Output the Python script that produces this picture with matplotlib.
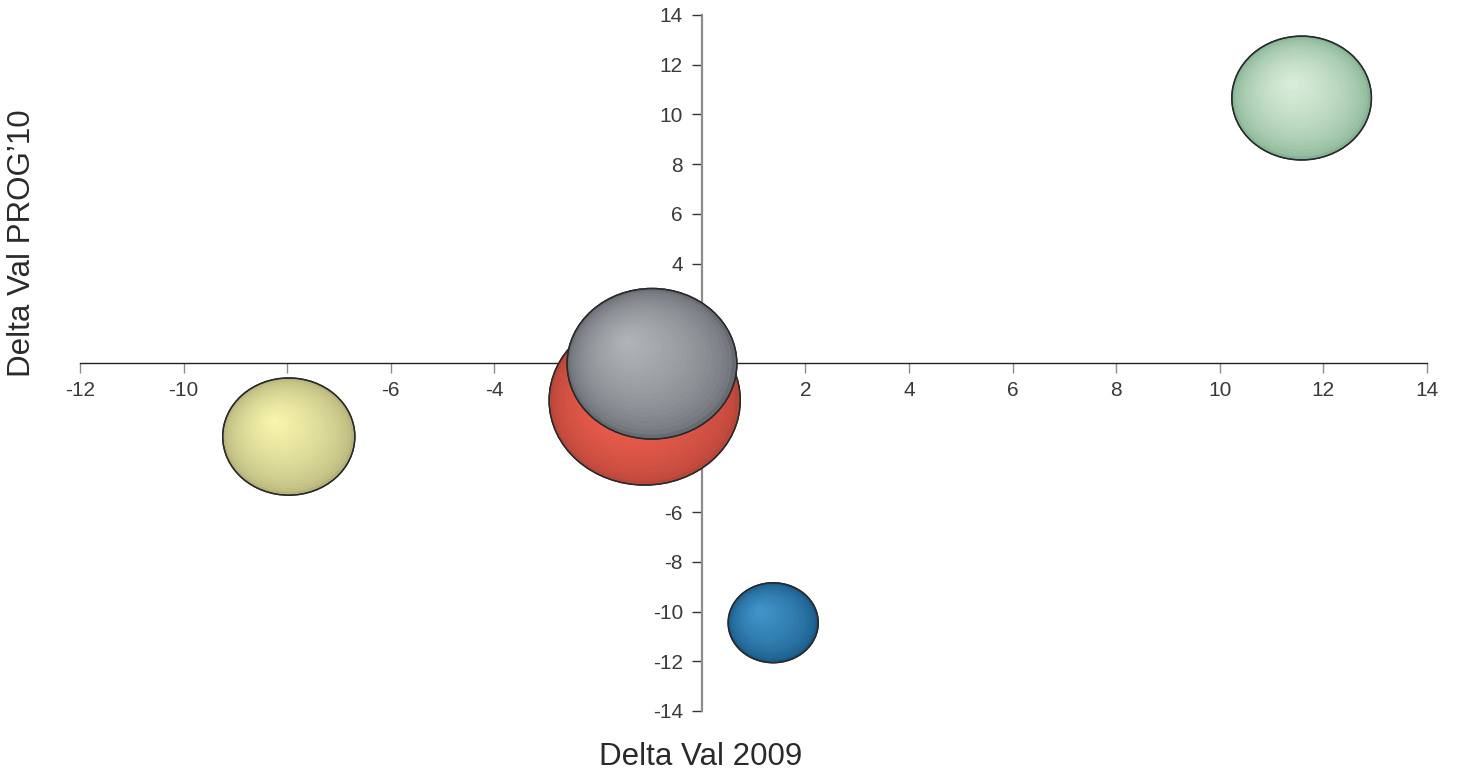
import numpy as np
import matplotlib
matplotlib.use("Agg")
import matplotlib.pyplot as plt
from matplotlib.patches import Ellipse
from matplotlib.colors import to_rgb

plt.rcParams['font.family'] = ['Liberation Sans', 'DejaVu Sans']

# Bubble data: delta value 2009 (x), delta value PROG'10 (y), bubble size
x_vals = [11.58, -7.97, -1.10, -0.96, 1.38]
y_vals = [10.66, -2.96, -1.50, -0.03, -10.45]
sizes = [24.0, 21.5, 45.0, 35.5, 10.0]

# Shading for each bubble: rim colour, highlight colour, highlight offset (fraction of radius)
rim_colors = ['#86b393', '#b3b27a', '#b8463a', '#676b72', '#175785']
hi_colors = ['#dcefdc', '#f9f6ad', '#f4604f', '#b2b6ba', '#4296cb']
hi_offsets = [(-0.14, 0.24), (-0.22, 0.28), (-0.25, -0.05), (-0.30, 0.30), (-0.32, 0.32)]

x_ticks = np.arange(-12, 15, 2)
y_ticks = np.arange(-14, 15, 2)

fig = plt.figure(figsize=(14.57, 7.78), dpi=100)
W, H = 1457, 778
ax = fig.add_axes([80 / W, 67 / H, 1347 / W, 696 / H])
ax.set_xlim(-12, 14)
ax.set_ylim(-14, 14)
ax.set_xticks(x_ticks)
ax.set_yticks(y_ticks)
ax.set_xticklabels([str(v) for v in x_ticks])
ax.set_yticklabels([str(v) for v in y_ticks])

for s in ('top', 'right'):
    ax.spines[s].set_visible(False)
ax.spines['left'].set_position(('data', 0))
ax.spines['bottom'].set_position(('data', 0))
ax.spines['left'].set_color('#8c8c8c')
ax.spines['left'].set_linewidth(1.6)
ax.spines['bottom'].set_color('#222222')
ax.spines['bottom'].set_linewidth(1.0)

ax.tick_params(axis='x', direction='out', length=7, width=1.0, color='#8c8c8c',
               pad=6, labelsize=15, labelcolor='#3a3a3a')
ax.tick_params(axis='y', direction='out', length=7.5, width=1.0, color='#333333',
               pad=6, labelsize=15, labelcolor='#3a3a3a')

fig.text(701 / W, 1 - 757 / H, 'Delta Val 2009', ha='center', va='center',
         fontsize=22.5, color='#2a2a2a')
fig.text(22 / W, 1 - 243 / H, "Delta Val PROG\u201910", ha='center', va='center',
         rotation=90, fontsize=22.5, color='#2a2a2a')

# Pixel scale of the data axes, used to keep bubbles in screen proportions
fig.canvas.draw()
p0 = ax.transData.transform((0, 0))
p1 = ax.transData.transform((1, 1))
px_x = p1[0] - p0[0]
px_y = p1[1] - p0[1]

px_per_root = 28.5   # bubble width in pixels per sqrt(size)
aspect = 0.887       # bubble height / width

n_rings = 22
for i, (xv, yv, sz) in enumerate(zip(x_vals, y_vals, sizes)):
    w_px = px_per_root * np.sqrt(sz)
    h_px = w_px * aspect
    rw = w_px / px_x
    rh = h_px / px_y
    c_rim = np.array(to_rgb(rim_colors[i]))
    c_hi = np.array(to_rgb(hi_colors[i]))
    ox, oy = hi_offsets[i]
    z = 5 + i
    ax.add_patch(Ellipse((xv, yv), rw, rh, facecolor=c_rim, edgecolor='#2a2a2a',
                         linewidth=1.0, zorder=z))
    for k in range(1, n_rings):
        t = k / n_rings
        f = t ** 0.55
        col = c_rim + (c_hi - c_rim) * f
        sc = 1 - t
        cx = xv + t * ox * rw / 2
        cy = yv + t * oy * rh / 2
        ax.add_patch(Ellipse((cx, cy), rw * sc, rh * sc, facecolor=col,
                             edgecolor='none', zorder=z))
    ax.add_patch(Ellipse((xv, yv), rw, rh, facecolor='none', edgecolor='#2a2a2a',
                         linewidth=1.0, zorder=z))

fig.savefig('out.png', dpi=100)
